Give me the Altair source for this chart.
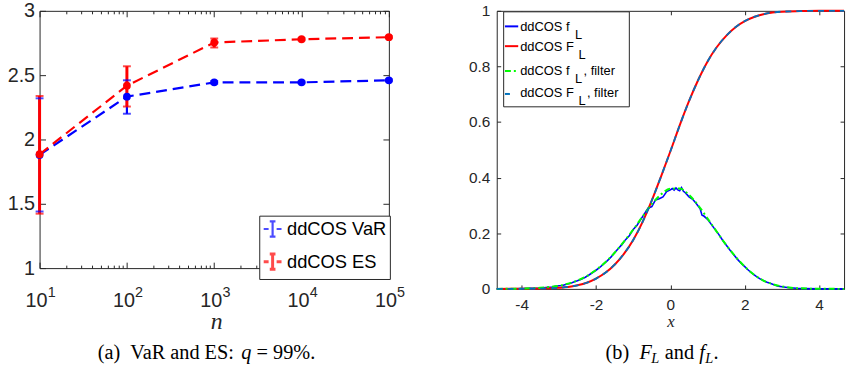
import altair as alt
import pandas as pd

# ---------------- data: panel (a) ----------------
n_vals = [10, 100, 1000, 10000, 100000]
var_mean = [1.880, 2.333, 2.444, 2.444, 2.460]
var_low = [1.440, 2.200, 2.434, 2.437, 2.452]
var_high = [2.320, 2.460, 2.454, 2.451, 2.468]
es_mean = [1.885, 2.418, 2.754, 2.779, 2.795]
es_low = [1.423, 2.256, 2.715, 2.771, 2.787]
es_high = [2.338, 2.569, 2.785, 2.787, 2.803]
series_names = ["ddCOS VaR", "ddCOS ES"]
series_colors = ["#0000ff", "#ff0000"]

x_major = [10, 100, 1000, 10000, 100000]
x_minor = [20, 30, 40, 50, 60, 70, 80, 90,
           200, 300, 400, 500, 600, 700, 800, 900,
           2000, 3000, 4000, 5000, 6000, 7000, 8000, 9000,
           20000, 30000, 40000, 50000, 60000, 70000, 80000, 90000]
y_ticks_a = [1, 1.5, 2, 2.5, 3]

# ---------------- data: panel (b) ----------------
pdf_raw_x = [-4.67, -4.2, -3.8, -3.5, -3.4, -3.3, -3.2, -3.1, -3.0, -2.9, -2.8, -2.7, -2.6,
             -2.5, -2.4, -2.3, -2.2, -2.1, -2.0, -1.9, -1.8, -1.7, -1.6, -1.5, -1.4, -1.3,
             -1.2, -1.1, -1.0, -0.9, -0.8, -0.7, -0.6, -0.5, -0.4, -0.3, -0.2, -0.1, 0.0,
             0.05, 0.1, 0.15, 0.2, 0.25, 0.3, 0.35, 0.4, 0.5, 0.6, 0.7, 0.8, 0.85, 0.9, 1.0,
             1.1, 1.2, 1.3, 1.4, 1.5, 1.6, 1.7, 1.8, 1.9, 2.0, 2.1, 2.2, 2.3, 2.4, 2.5, 2.6,
             2.7, 2.8, 2.9, 3.0, 3.2, 3.4, 3.6, 4.0, 4.67]
pdf_raw_y = [0.0, 0.0005, 0.002, 0.003, 0.004, 0.006, 0.006, 0.009, 0.011, 0.012, 0.017, 0.019,
             0.025, 0.029, 0.035, 0.041, 0.049, 0.058, 0.067, 0.077, 0.089, 0.101, 0.114, 0.130,
             0.145, 0.160, 0.178, 0.192, 0.214, 0.228, 0.249, 0.270, 0.290, 0.296, 0.320, 0.324,
             0.331, 0.350, 0.356, 0.361, 0.355, 0.363, 0.356, 0.353, 0.364, 0.351, 0.346, 0.331,
             0.322, 0.306, 0.288, 0.265, 0.262, 0.250, 0.232, 0.214, 0.196, 0.176, 0.158, 0.140,
             0.124, 0.107, 0.092, 0.080, 0.067, 0.056, 0.046, 0.037, 0.030, 0.024, 0.019, 0.014,
             0.010, 0.008, 0.004, 0.002, 0.001, 0.0, 0.0]
pdf_flt_x = [-4.67, -4.0, -3.5, -3.25, -3.0, -2.75, -2.5, -2.25, -2.0, -1.75, -1.5, -1.25, -1.0,
             -0.75, -0.5, -0.25, 0.0, 0.25, 0.5, 0.75, 1.0, 1.25, 1.5, 1.75, 2.0, 2.25, 2.5, 2.75,
             3.0, 3.25, 3.5, 4.0, 4.67]
pdf_flt_y = [0.0, 0.001, 0.004, 0.007, 0.011, 0.019, 0.030, 0.046, 0.068, 0.096, 0.130, 0.170,
             0.213, 0.260, 0.305, 0.340, 0.360, 0.361, 0.338, 0.300, 0.253, 0.205, 0.158, 0.116,
             0.080, 0.051, 0.030, 0.017, 0.009, 0.004, 0.002, 0.0005, 0.0]
cdf_x = [-4.67, -4.0, -3.5, -3.0, -2.75, -2.5, -2.25, -2.0, -1.75, -1.5, -1.25, -1.0, -0.75,
         -0.5, -0.25, 0.0, 0.25, 0.5, 0.75, 1.0, 1.25, 1.5, 1.75, 2.0, 2.25, 2.5, 2.75, 3.0,
         3.5, 4.0, 4.67]
cdf_y = [0.0, 0.0003, 0.001, 0.004, 0.007, 0.013, 0.022, 0.037, 0.058, 0.087, 0.126, 0.176,
         0.240, 0.318, 0.405, 0.495, 0.588, 0.675, 0.752, 0.818, 0.870, 0.910, 0.941, 0.963,
         0.978, 0.988, 0.994, 0.997, 0.999, 1.0, 1.0]
cdf_flt_y = cdf_y
x_ticks_b = [-4, -2, 0, 2, 4]
y_ticks_b = [0, 0.2, 0.4, 0.6, 0.8, 1]

AX = "#262626"
SANS = "Liberation Sans"
SERIF = "Liberation Serif"
dummy = pd.DataFrame({"k": [0]})


def txt(text, x, y, size, font=SANS, style="normal", align="left", baseline="alphabetic", color="black"):
    return alt.Chart(dummy).mark_text(
        text=text, font=font, fontSize=size, fontStyle=style, align=align,
        baseline=baseline, color=color
    ).encode(x=alt.value(x), y=alt.value(y))


def seg(x1, x2, y, color, width, dash=None):
    kw = dict(color=color, strokeWidth=width)
    if dash is not None:
        kw["strokeDash"] = dash
    return alt.Chart(dummy).mark_rule(**kw).encode(x=alt.value(x1), x2=alt.value(x2), y=alt.value(y))


# ---------------- panel (a) ----------------
WA, HA = 353, 260
df_a = pd.DataFrame({
    "n": n_vals + n_vals,
    "mean": var_mean + es_mean,
    "low": var_low + es_low,
    "high": var_high + es_high,
    "series": [series_names[0]] * 5 + [series_names[1]] * 5,
})
xs_a = alt.Scale(type="log", domain=[10, 100000], nice=False)
ys_a = alt.Scale(domain=[1, 3], nice=False, zero=False)
cscale = alt.Scale(domain=series_names, range=series_colors)

common_x = dict(grid=False, domain=False, title=None, labelFlush=False, labelOverlap=False, labelBound=False)

ax_x_main = alt.Axis(values=x_major, orient="bottom", offset=-6, tickSize=6, labelExpr="'10'",
                     labelOffset=-3.5, labelPadding=33, labelBaseline="middle", labelFont=SANS,
                     labelFontSize=20, labelColor=AX, tickColor=AX, **common_x)
ax_x_exp = alt.Axis(values=x_major, orient="bottom", ticks=False, tickSize=0, labels=True,
                    labelExpr="'' + round(log(datum.value) / LN10)", labelAlign="left",
                    labelOffset=7.8, labelPadding=24.5, labelBaseline="middle",
                    labelFont=SANS, labelFontSize=14.5, labelColor=AX, **common_x)
ax_x_minor_b = alt.Axis(values=x_minor, orient="bottom", offset=-3, tickSize=3, labels=False,
                        tickColor=AX, **common_x)
ax_x_major_t = alt.Axis(values=x_major, orient="top", offset=-6, tickSize=6, labels=False,
                        tickColor=AX, **common_x)
ax_x_minor_t = alt.Axis(values=x_minor, orient="top", offset=-3, tickSize=3, labels=False,
                        tickColor=AX, **common_x)
ax_y_left = alt.Axis(values=y_ticks_a, orient="left", offset=-6, tickSize=6, labelExpr="'' + datum.value",
                     labelPadding=5, labelFont=SANS, labelFontSize=20, labelColor=AX, tickColor=AX,
                     grid=False, domain=False, title=None)
ax_y_right = alt.Axis(values=y_ticks_a, orient="right", offset=-6, tickSize=6, labels=False,
                      tickColor=AX, grid=False, domain=False, title=None)

sym_path = ("M-1,0L-0.45,0M0.45,0L1,0M0,-0.85L0,0.85"
            "M-0.32,-0.85L0.32,-0.85M-0.32,0.85L0.32,0.85")
legend_a = alt.Legend(orient="none", legendX=222, legendY=207, direction="vertical", title=None,
                      padding=3, strokeColor=AX, fillColor="white", symbolType=sym_path,
                      symbolSize=324, symbolStrokeWidth=2, labelFont=SANS, labelFontSize=18.5,
                      labelColor="black", labelOffset=4, rowPadding=6)
color_a = alt.Color("series:N", scale=cscale, legend=legend_a)

base_a = alt.Chart(df_a)
lines_a = base_a.mark_line(strokeDash=[11, 6], strokeWidth=2.2).encode(
    x=alt.X("n:Q", scale=xs_a, axis=ax_x_main),
    y=alt.Y("mean:Q", scale=ys_a, axis=ax_y_left),
    color=color_a,
    detail="series:N",
)
bars_a = base_a.mark_rule().encode(
    x=alt.X("n:Q", scale=xs_a, axis=ax_x_exp),
    y=alt.Y("low:Q", scale=ys_a, axis=ax_y_right),
    y2="high:Q",
    color=color_a,
    strokeWidth=alt.StrokeWidth("series:N", scale=alt.Scale(domain=series_names, range=[2.2, 3.0]),
                                legend=None),
)
caplo_a = base_a.mark_tick(orient="horizontal", size=8, thickness=2).encode(
    x=alt.X("n:Q", scale=xs_a, axis=ax_x_minor_b),
    y=alt.Y("low:Q", scale=ys_a, axis=None),
    color=color_a,
)
caphi_a = base_a.mark_tick(orient="horizontal", size=8, thickness=2).encode(
    x=alt.X("n:Q", scale=xs_a, axis=ax_x_major_t),
    y=alt.Y("high:Q", scale=ys_a, axis=None),
    color=color_a,
)
pts_a = base_a.mark_point(filled=True, size=62, opacity=1).encode(
    x=alt.X("n:Q", scale=xs_a, axis=ax_x_minor_t),
    y=alt.Y("mean:Q", scale=ys_a, axis=None),
    color=color_a,
)

cap_y_a = 352
panel_a = alt.layer(
    lines_a, bars_a, caplo_a, caphi_a, pts_a,
    txt("n", 179, 322, 24, font=SERIF, style="italic", align="center", baseline="alphabetic", color=AX),
    txt("(a)\u00a0\u00a0VaR and ES:", 58.7, cap_y_a, 20.5, font=SERIF),
    txt("q", 203.9, cap_y_a, 20.5, font=SERIF, style="italic"),
    txt("= 99%.", 219.3, cap_y_a, 20.5, font=SERIF),
).resolve_axis(x="independent", y="independent").properties(width=WA, height=HA)

# ---------------- panel (b) ----------------
WB, HB = 351, 281
xs_b = alt.Scale(domain=[-4.67, 4.67], nice=False, zero=False)
ys_b = alt.Scale(domain=[0, 1], nice=False)

ax_xb_bot = alt.Axis(values=x_ticks_b, orient="bottom", offset=-4, tickSize=4, labelExpr="'' + datum.value",
                     labelPadding=9, labelFont=SANS, labelFontSize=15.5, labelColor=AX, tickColor=AX,
                     **common_x)
ax_xb_top = alt.Axis(values=x_ticks_b, orient="top", offset=-4, tickSize=4, labels=False,
                     tickColor=AX, **common_x)
ax_yb_left = alt.Axis(values=y_ticks_b, orient="left", offset=-4, tickSize=4, labelExpr="'' + datum.value",
                      labelPadding=7, labelFont=SANS, labelFontSize=15.5, labelColor=AX, tickColor=AX,
                      grid=False, domain=False, title=None)
ax_yb_right = alt.Axis(values=y_ticks_b, orient="right", offset=-4, tickSize=4, labels=False,
                       tickColor=AX, grid=False, domain=False, title=None)

df_raw = pd.DataFrame({"x": pdf_raw_x, "y": pdf_raw_y})
df_flt = pd.DataFrame({"x": pdf_flt_x, "y": pdf_flt_y})
df_cdf = pd.DataFrame({"x": cdf_x, "y": cdf_y})
df_cdf_f = pd.DataFrame({"x": cdf_x, "y": cdf_flt_y})

l_raw = alt.Chart(df_raw).mark_line(color="#0000ff", strokeWidth=1.6).encode(
    x=alt.X("x:Q", scale=xs_b, axis=ax_xb_bot), y=alt.Y("y:Q", scale=ys_b, axis=ax_yb_left))
l_cdf = alt.Chart(df_cdf).mark_line(color="#ff0000", strokeWidth=2, interpolate="monotone").encode(
    x=alt.X("x:Q", scale=xs_b, axis=ax_xb_top), y=alt.Y("y:Q", scale=ys_b, axis=ax_yb_right))
l_flt = alt.Chart(df_flt).mark_line(color="#00ff00", strokeWidth=2, strokeDash=[6, 3, 2, 3],
                                    interpolate="monotone").encode(
    x=alt.X("x:Q", scale=xs_b, axis=None), y=alt.Y("y:Q", scale=ys_b, axis=None))
l_cdf_f = alt.Chart(df_cdf_f).mark_line(color="#0072bd", strokeWidth=1.8, strokeDash=[6, 5],
                                        interpolate="monotone").encode(
    x=alt.X("x:Q", scale=xs_b, axis=None), y=alt.Y("y:Q", scale=ys_b, axis=None))

# legend (b)
tx0 = 23.7
fs_lg = 13
dy = -2
lg_base = [22.2 + dy, 42.2 + dy, 67.2 + dy, 88.8 + dy]
legend_b = [
    alt.Chart(dummy).mark_rect(fill="white", stroke=AX, strokeWidth=1).encode(
        x=alt.value(7), x2=alt.value(134), y=alt.value(3 + dy), y2=alt.value(99 + dy)),
    seg(8.3, 21.7, 17.7 + dy, "#0000ff", 2),
    seg(8.3, 21.7, 37.7 + dy, "#ff0000", 2),
    seg(8.3, 21.7, 62.7 + dy, "#00ff00", 2, [6, 3, 2, 3]),
    seg(8.3, 21.7, 86.0 + dy, "#0072bd", 2, [5, 20]),
    txt("ddCOS f", tx0, lg_base[0], fs_lg),
    txt("L", tx0 + 55.5, lg_base[0] + 8, fs_lg),
    txt("ddCOS F", tx0, lg_base[1], fs_lg),
    txt("L", tx0 + 59.0, lg_base[1] + 8, fs_lg),
    txt("ddCOS f", tx0, lg_base[2], fs_lg),
    txt("L", tx0 + 55.5, lg_base[2] + 8, fs_lg),
    txt(", filter", tx0 + 64.0, lg_base[2], fs_lg),
    txt("ddCOS F", tx0, lg_base[3], fs_lg),
    txt("L", tx0 + 59.0, lg_base[3] + 8, fs_lg),
    txt(", filter", tx0 + 67.5, lg_base[3], fs_lg),
]

cap_y_b = 352
panel_b = alt.layer(
    l_raw, l_cdf, l_flt, l_cdf_f, *legend_b,
    txt("x", 176, 320, 17, font=SERIF, style="italic", align="center", color=AX),
    txt("(b)", 110, cap_y_b, 20.5, font=SERIF),
    txt("F", 144.2, cap_y_b, 20.5, font=SERIF, style="italic"),
    txt("L", 156.2, cap_y_b + 4, 14.5, font=SERIF, style="italic"),
    txt("and", 169.9, cap_y_b, 20.5, font=SERIF),
    txt("f", 204.6, cap_y_b, 20.5, font=SERIF, style="italic"),
    txt("L", 210.8, cap_y_b + 4, 14.5, font=SERIF, style="italic"),
    txt(".", 219.0, cap_y_b, 20.5, font=SERIF),
).resolve_axis(x="independent", y="independent").properties(width=WB, height=HB)

chart = alt.hconcat(panel_a, panel_b, spacing=62).properties(
    padding={"left": 6, "top": -2, "right": 0, "bottom": 0}
).configure_view(stroke=AX, strokeWidth=1).configure_axis(grid=False)

chart.save("out.html", embed_options={"renderer": "svg", "actions": False})
